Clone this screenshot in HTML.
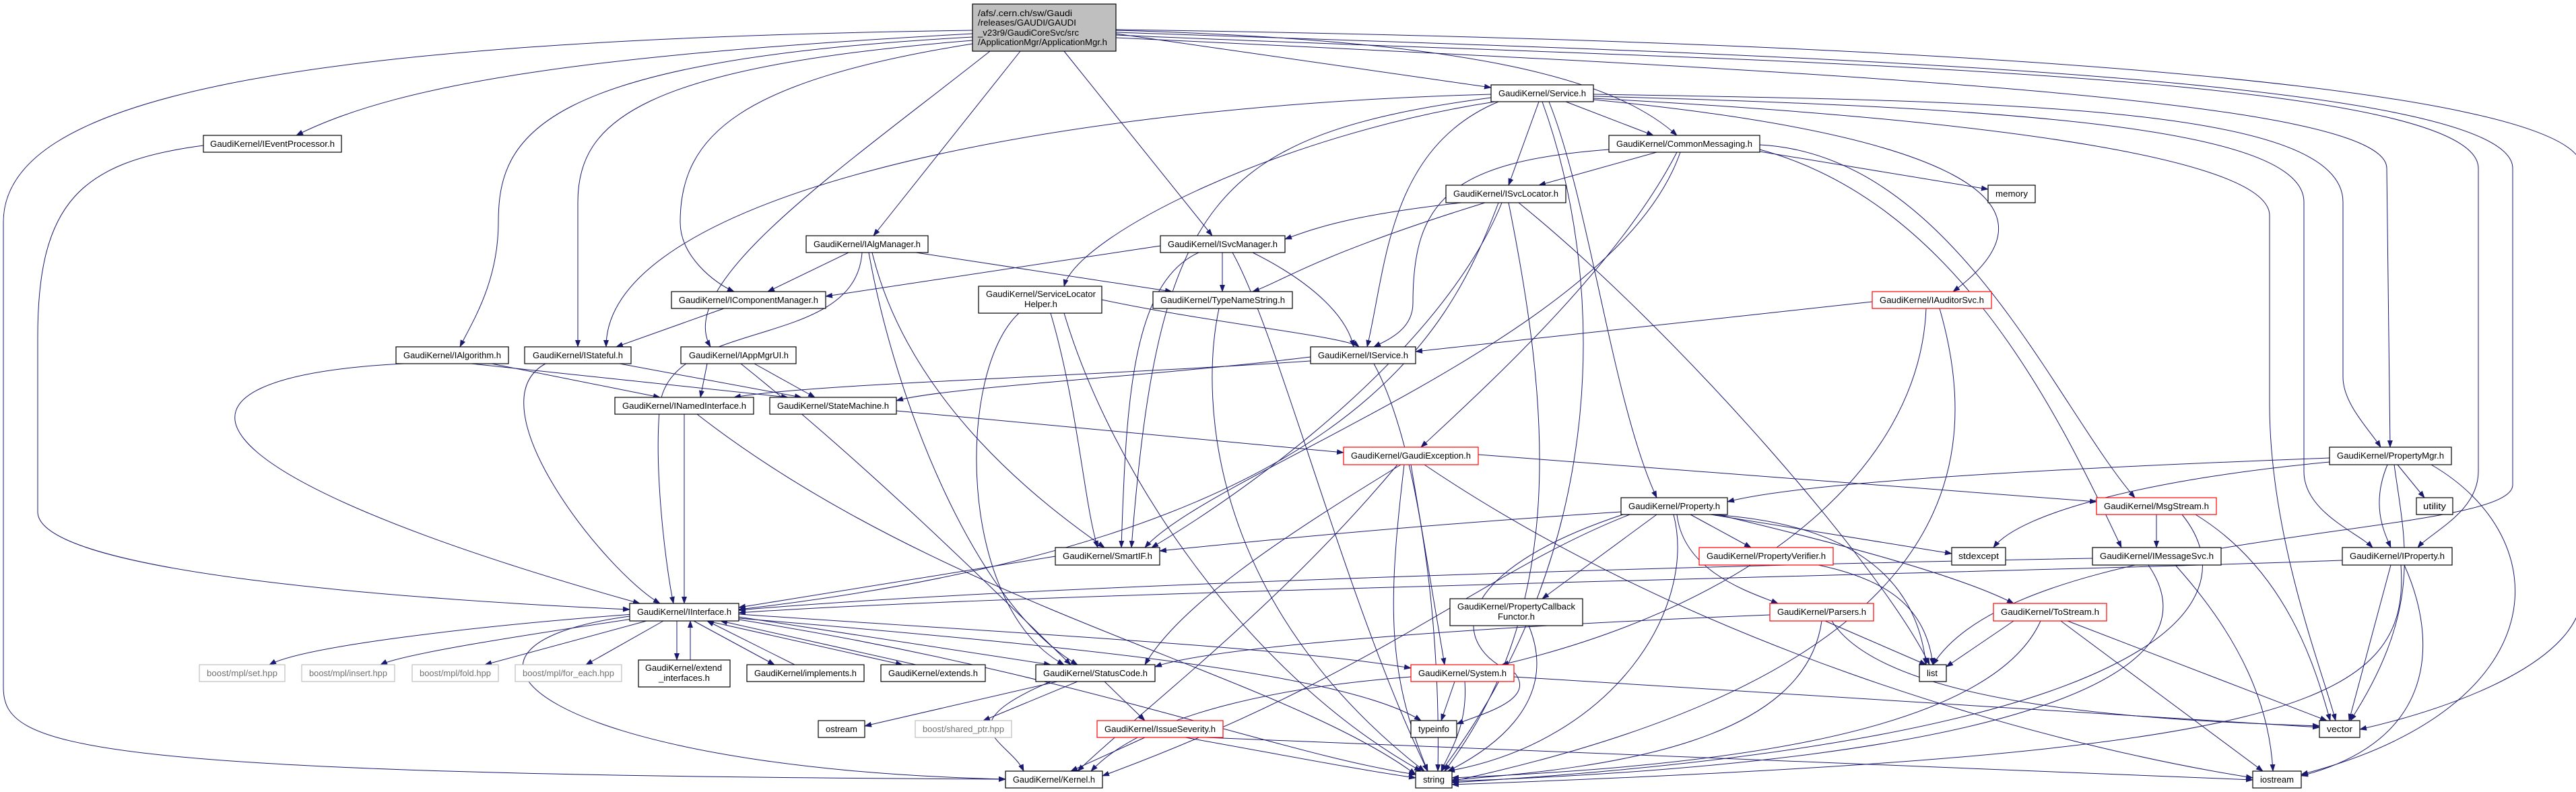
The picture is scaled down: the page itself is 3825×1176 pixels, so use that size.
<!DOCTYPE html>
<html><head><meta charset="utf-8"><style>
html,body{margin:0;padding:0;background:#fff}
svg{display:block}
text{font-family:"Liberation Sans",sans-serif;font-size:13px;fill:#000}
.n{fill:#fff;stroke:#000;stroke-width:1.2}
.r{fill:#fff;stroke:#ff0000;stroke-width:1.2}
.g{fill:#fff;stroke:#bfbfbf;stroke-width:1.2}
.gt{fill:#707070}
path{fill:none;stroke:#191970;stroke-width:1}
</style></head><body>
<svg width="3825" height="1176" viewBox="0 0 3825 1176" xmlns="http://www.w3.org/2000/svg">
<defs><marker id="a" markerWidth="11" markerHeight="8" refX="10" refY="4" orient="auto" markerUnits="userSpaceOnUse"><polygon points="0,0 11,4 0,8" fill="#191970"/></marker></defs>
<g marker-end="url(#a)">
<path d="M1444,50 C900,80 600,120 440,201"/>
<path d="M1444,55 C800,90 740,200 740,330 C740,420 700,480 683,515"/>
<path d="M1444,60 C950,100 858,180 858,300 L858,515"/>
<path d="M1444,65 C1100,120 1010,200 1010,330 C1010,380 1060,420 1090,433"/>
<path d="M1470,76 C1250,250 1000,420 1055,515"/>
<path d="M1515,76 L1297,350"/>
<path d="M1580,76 L1800,350"/>
<path d="M1657,50 L2214,130"/>
<path d="M1657,45 C2200,60 2400,120 2490,201"/>
<path d="M1657,44 C2800,60 3834,120 3834,250 L3834,880 C3834,980 3650,1050 3504,1083"/>
<path d="M1657,48 C2600,80 3731,110 3731,250 L3731,720 C3731,800 3000,780 2870,987"/>
<path d="M1657,52 C2500,90 3680,100 3680,250 L3680,700 C3680,760 3610,790 3590,813"/>
<path d="M1657,56 C2800,110 3544,150 3544,250 L3549,664"/>
<path d="M2366,140 C3000,150 3479,160 3479,300 L3479,560 C3479,600 3520,640 3535,664"/>
<path d="M2366,143 C3000,160 3421,190 3421,300 L3421,700 C3421,760 3500,790 3523,813"/>
<path d="M2366,146 C3000,180 3370,240 3370,320 L3370,600 C3370,800 3450,1000 3468,1070"/>
<path d="M1444,45 C400,60 5,150 5,330 L5,1020 C5,1110 100,1150 1493,1157"/>
<path d="M302,216 C120,240 56,300 56,500 L56,760 C56,850 600,890 935,905"/>
<path d="M2285,151 L2240,275"/>
<path d="M2325,151 L2455,201"/>
<path d="M2225,151 C2060,220 2058,400 2030,515"/>
<path d="M2300,151 C2360,300 2395,600 2460,739"/>
<path d="M2366,148 C2900,200 3080,300 2900,433"/>
<path d="M2220,151 C1900,200 1600,350 1580,425"/>
<path d="M2214,140 C1500,160 900,300 900,515"/>
<path d="M2214,145 C1800,200 1720,300 1680,813"/>
<path d="M2290,151 C2380,400 2400,800 2140,1145"/>
<path d="M2460,226 L2285,275"/>
<path d="M2389,222 C2150,240 2098,300 2098,450 C2098,490 2060,505 2040,515"/>
<path d="M2613,225 L2952,281"/>
<path d="M2613,215 C2900,230 3050,600 3170,739"/>
<path d="M2613,222 C2900,300 3050,600 3150,813"/>
<path d="M2490,226 C2400,400 2200,580 2110,664"/>
<path d="M2495,226 C2400,500 1800,700 1700,813"/>
<path d="M2170,301 C2000,320 1950,340 1908,355"/>
<path d="M2205,301 C1950,380 1900,420 1860,433"/>
<path d="M2225,301 C2150,500 2000,800 1097,905"/>
<path d="M2230,301 C2150,500 1900,700 1710,813"/>
<path d="M2255,301 C2500,500 2800,850 2865,987"/>
<path d="M2240,301 C2300,600 2330,900 2145,1145"/>
<path d="M1723,365 C1500,400 1300,430 1226,440"/>
<path d="M1815,375 L1815,433"/>
<path d="M1860,375 C1950,420 2000,470 2010,515"/>
<path d="M1780,375 C1680,420 1672,600 1665,813"/>
<path d="M1830,375 C1900,500 2000,900 2120,1145"/>
<path d="M1260,375 L1140,433"/>
<path d="M1360,375 L1740,433"/>
<path d="M1295,375 C1350,600 1550,750 1640,813"/>
<path d="M1280,375 C1270,520 1000,470 980,600 C970,700 990,850 1000,896"/>
<path d="M1290,375 C1330,600 1450,900 1600,987"/>
<path d="M1075,458 L915,515"/>
<path d="M1636,445 C1800,480 2000,500 2018,515"/>
<path d="M1513,465 C1420,550 1420,900 1580,987"/>
<path d="M1560,465 C1600,600 1610,750 1630,813"/>
<path d="M1580,465 C1650,700 1850,1000 2110,1145"/>
<path d="M1810,458 C1780,600 1800,900 2115,1145"/>
<path d="M920,540 L1190,590"/>
<path d="M810,540 C700,600 900,850 980,896"/>
<path d="M730,540 L980,590"/>
<path d="M700,540 L1170,590"/>
<path d="M600,540 C200,560 250,700 950,896"/>
<path d="M1120,540 L1210,590"/>
<path d="M1050,540 L1040,590"/>
<path d="M1100,540 C1300,700 1500,900 1590,987"/>
<path d="M1960,535 C1600,560 1200,570 1090,590"/>
<path d="M1946,530 C1700,560 1400,575 1331,595"/>
<path d="M2040,540 C2100,650 2140,900 2135,1145"/>
<path d="M1016,615 L1016,896"/>
<path d="M1035,615 C1400,900 1900,1000 2102,1150"/>
<path d="M1331,610 L1995,672"/>
<path d="M2780,448 L2102,522"/>
<path d="M2860,458 C2850,700 2600,900 2230,987"/>
<path d="M2880,458 C2950,700 2900,1000 2156,1160"/>
<path d="M2195,675 L3113,745"/>
<path d="M2080,690 C1900,800 1750,900 1700,987"/>
<path d="M2095,690 L2145,987"/>
<path d="M2085,690 C2060,900 2060,1000 2120,1145"/>
<path d="M2075,690 C1900,900 1700,1050 1600,1145"/>
<path d="M2115,690 C2500,950 3000,1100 3345,1155"/>
<path d="M3459,680 C3200,690 2700,710 2565,745"/>
<path d="M3545,690 C3520,750 3540,790 3550,813"/>
<path d="M3560,690 L3600,739"/>
<path d="M3555,690 C3570,800 3600,900 3490,1070"/>
<path d="M3459,686 C3200,710 3000,760 2960,813"/>
<path d="M3610,690 C3800,800 3800,1050 3417,1150"/>
<path d="M2407,760 C2100,780 1900,800 1722,818"/>
<path d="M2540,764 L2898,822"/>
<path d="M2510,764 L2600,813"/>
<path d="M2460,764 L2290,889"/>
<path d="M2490,764 C2500,850 2600,880 2640,896"/>
<path d="M2550,764 C2700,800 2900,850 2990,896"/>
<path d="M2540,764 C2800,780 2850,900 2860,987"/>
<path d="M2485,764 C2520,900 2400,1100 2150,1145"/>
<path d="M2420,764 C2200,850 2050,1000 1637,1152"/>
<path d="M2410,764 C2150,850 2150,960 2250,1000 C2280,1040 2200,1060 2163,1075"/>
<path d="M1567,826 L1097,902"/>
<path d="M3107,829 C2500,840 1500,870 1097,906"/>
<path d="M3190,839 C3300,1000 3000,1130 2156,1160"/>
<path d="M3230,839 C3330,950 3370,1050 3375,1145"/>
<path d="M3202,764 L3202,813"/>
<path d="M3240,764 C3350,900 3200,1100 2156,1162"/>
<path d="M3260,764 C3400,850 3440,1000 3460,1070"/>
<path d="M3478,832 C3000,850 1500,880 1097,910"/>
<path d="M3550,839 L3488,1070"/>
<path d="M3565,839 C3580,1050 3400,1120 2156,1165"/>
<path d="M3570,839 C3620,950 3620,1100 3417,1152"/>
<path d="M940,912 C700,930 450,960 400,987"/>
<path d="M945,918 C800,940 600,970 565,987"/>
<path d="M960,922 L720,987"/>
<path d="M985,922 L870,987"/>
<path d="M1005,922 L1005,980"/>
<path d="M1025,980 L1025,922"/>
<path d="M1030,922 L1150,987"/>
<path d="M1180,987 L1050,922"/>
<path d="M1050,922 L1340,987"/>
<path d="M1360,987 L1070,922"/>
<path d="M1097,916 L1560,987"/>
<path d="M1097,912 C1500,940 1900,960 2095,992"/>
<path d="M935,915 C600,960 800,1140 1493,1157"/>
<path d="M1097,918 C1600,960 2000,1000 2110,1070"/>
<path d="M1097,920 C1600,1000 1900,1120 2102,1150"/>
<path d="M1570,1012 L1284,1078"/>
<path d="M1600,1012 L1460,1070"/>
<path d="M1640,1012 L1700,1070"/>
<path d="M1560,1012 C1400,1080 1500,1100 1520,1145"/>
<path d="M1700,1095 L1590,1145"/>
<path d="M1760,1095 C1900,1120 2000,1140 2102,1155"/>
<path d="M1790,1095 C2500,1120 3000,1140 3345,1158"/>
<path d="M2160,1012 L2140,1070"/>
<path d="M2175,1012 C2180,1080 2150,1120 2140,1145"/>
<path d="M2248,1005 L3444,1080"/>
<path d="M2095,1005 C1900,1020 1700,1060 1620,1145"/>
<path d="M2990,922 L2890,990"/>
<path d="M3070,922 L3455,1070"/>
<path d="M3060,922 L3360,1145"/>
<path d="M3030,922 C2950,1100 2500,1140 2156,1155"/>
<path d="M2628,913 C2200,930 1800,960 1715,990"/>
<path d="M2710,922 L2860,987"/>
<path d="M2720,922 C2800,1050 3200,1070 3444,1078"/>
<path d="M2705,922 C2680,1100 2400,1140 2156,1158"/>
<path d="M2270,929 C2320,1050 2200,1120 2150,1145"/>
<path d="M2700,839 C2800,860 2860,900 2870,987"/>
</g>
<rect x="1444" y="6" width="213" height="70" fill="#bfbfbf" stroke="#000" stroke-width="1.2"/>
<text x="1452" y="24" textLength="140" lengthAdjust="spacingAndGlyphs">/afs/.cern.ch/sw/Gaudi</text>
<text x="1452" y="38" textLength="146" lengthAdjust="spacingAndGlyphs">/releases/GAUDI/GAUDI</text>
<text x="1452" y="53" textLength="150" lengthAdjust="spacingAndGlyphs">_v23r9/GaudiCoreSvc/src</text>
<text x="1452" y="67" textLength="192" lengthAdjust="spacingAndGlyphs">/ApplicationMgr/ApplicationMgr.h</text>
<g>
<rect class="n" x="302" y="201" width="205" height="25"/><text x="312" y="218" textLength="185" lengthAdjust="spacingAndGlyphs">GaudiKernel/IEventProcessor.h</text>
<rect class="n" x="588" y="515" width="167" height="25"/><text x="599" y="532" textLength="145" lengthAdjust="spacingAndGlyphs">GaudiKernel/IAlgorithm.h</text>
<rect class="n" x="779" y="515" width="158" height="25"/><text x="791" y="532" textLength="134" lengthAdjust="spacingAndGlyphs">GaudiKernel/IStateful.h</text>
<rect class="n" x="1197" y="350" width="181" height="25"/><text x="1208" y="367" textLength="159" lengthAdjust="spacingAndGlyphs">GaudiKernel/IAlgManager.h</text>
<rect class="n" x="1723" y="350" width="185" height="25"/><text x="1734" y="367" textLength="163" lengthAdjust="spacingAndGlyphs">GaudiKernel/ISvcManager.h</text>
<rect class="n" x="997" y="433" width="229" height="25"/><text x="1008" y="450" textLength="207" lengthAdjust="spacingAndGlyphs">GaudiKernel/IComponentManager.h</text>
<rect class="n" x="1453" y="425" width="183" height="40"/><text x="1464" y="441" textLength="163" lengthAdjust="spacingAndGlyphs">GaudiKernel/ServiceLocator</text><text x="1521" y="456" textLength="49" lengthAdjust="spacingAndGlyphs">Helper.h</text>
<rect class="n" x="1712" y="433" width="207" height="25"/><text x="1723" y="450" textLength="185" lengthAdjust="spacingAndGlyphs">GaudiKernel/TypeNameString.h</text>
<rect class="n" x="1011" y="515" width="171" height="25"/><text x="1023" y="532" textLength="148" lengthAdjust="spacingAndGlyphs">GaudiKernel/IAppMgrUI.h</text>
<rect class="n" x="2214" y="126" width="152" height="25"/><text x="2225" y="143" textLength="130" lengthAdjust="spacingAndGlyphs">GaudiKernel/Service.h</text>
<rect class="n" x="2389" y="201" width="224" height="25"/><text x="2400" y="218" textLength="202" lengthAdjust="spacingAndGlyphs">GaudiKernel/CommonMessaging.h</text>
<rect class="n" x="2147" y="275" width="178" height="26"/><text x="2158" y="292" textLength="156" lengthAdjust="spacingAndGlyphs">GaudiKernel/ISvcLocator.h</text>
<rect class="n" x="1946" y="515" width="156" height="25"/><text x="1957" y="532" textLength="134" lengthAdjust="spacingAndGlyphs">GaudiKernel/IService.h</text>
<rect class="r" x="2780" y="433" width="177" height="25"/><text x="2791" y="450" textLength="155" lengthAdjust="spacingAndGlyphs">GaudiKernel/IAuditorSvc.h</text>
<rect class="n" x="2952" y="275" width="70" height="26"/><text x="2963" y="292" textLength="48" lengthAdjust="spacingAndGlyphs">memory</text>
<rect class="n" x="913" y="590" width="206" height="25"/><text x="924" y="607" textLength="184" lengthAdjust="spacingAndGlyphs">GaudiKernel/INamedInterface.h</text>
<rect class="n" x="1143" y="590" width="188" height="25"/><text x="1154" y="607" textLength="166" lengthAdjust="spacingAndGlyphs">GaudiKernel/StateMachine.h</text>
<rect class="r" x="1995" y="664" width="200" height="26"/><text x="2006" y="681" textLength="178" lengthAdjust="spacingAndGlyphs">GaudiKernel/GaudiException.h</text>
<rect class="n" x="3459" y="664" width="181" height="26"/><text x="3470" y="681" textLength="159" lengthAdjust="spacingAndGlyphs">GaudiKernel/PropertyMgr.h</text>
<rect class="n" x="2407" y="739" width="158" height="25"/><text x="2418" y="756" textLength="136" lengthAdjust="spacingAndGlyphs">GaudiKernel/Property.h</text>
<rect class="r" x="3113" y="739" width="178" height="25"/><text x="3124" y="756" textLength="156" lengthAdjust="spacingAndGlyphs">GaudiKernel/MsgStream.h</text>
<rect class="n" x="3588" y="739" width="54" height="25"/><text x="3598" y="756" textLength="34" lengthAdjust="spacingAndGlyphs">utility</text>
<rect class="n" x="1567" y="813" width="155" height="26"/><text x="1578" y="830" textLength="133" lengthAdjust="spacingAndGlyphs">GaudiKernel/SmartIF.h</text>
<rect class="r" x="2523" y="813" width="199" height="26"/><text x="2534" y="830" textLength="177" lengthAdjust="spacingAndGlyphs">GaudiKernel/PropertyVerifier.h</text>
<rect class="n" x="2898" y="813" width="80" height="26"/><text x="2908" y="830" textLength="60" lengthAdjust="spacingAndGlyphs">stdexcept</text>
<rect class="n" x="3107" y="813" width="191" height="26"/><text x="3118" y="830" textLength="169" lengthAdjust="spacingAndGlyphs">GaudiKernel/IMessageSvc.h</text>
<rect class="n" x="3478" y="813" width="163" height="26"/><text x="3489" y="830" textLength="141" lengthAdjust="spacingAndGlyphs">GaudiKernel/IProperty.h</text>
<rect class="n" x="2153" y="889" width="197" height="40"/><text x="2164" y="905" textLength="175" lengthAdjust="spacingAndGlyphs">GaudiKernel/PropertyCallback</text><text x="2224" y="920" textLength="55" lengthAdjust="spacingAndGlyphs">Functor.h</text>
<rect class="n" x="935" y="896" width="162" height="26"/><text x="946" y="913" textLength="140" lengthAdjust="spacingAndGlyphs">GaudiKernel/IInterface.h</text>
<rect class="r" x="2628" y="896" width="154" height="26"/><text x="2639" y="913" textLength="132" lengthAdjust="spacingAndGlyphs">GaudiKernel/Parsers.h</text>
<rect class="r" x="2960" y="896" width="168" height="26"/><text x="2971" y="913" textLength="146" lengthAdjust="spacingAndGlyphs">GaudiKernel/ToStream.h</text>
<rect class="g" x="296" y="987" width="127" height="25"/><text class="gt" x="307" y="1004" textLength="105" lengthAdjust="spacingAndGlyphs">boost/mpl/set.hpp</text>
<rect class="g" x="448" y="987" width="138" height="25"/><text class="gt" x="459" y="1004" textLength="116" lengthAdjust="spacingAndGlyphs">boost/mpl/insert.hpp</text>
<rect class="g" x="612" y="987" width="128" height="25"/><text class="gt" x="623" y="1004" textLength="106" lengthAdjust="spacingAndGlyphs">boost/mpl/fold.hpp</text>
<rect class="g" x="765" y="987" width="158" height="25"/><text class="gt" x="776" y="1004" textLength="136" lengthAdjust="spacingAndGlyphs">boost/mpl/for_each.hpp</text>
<rect class="n" x="948" y="980" width="136" height="40"/><text x="958" y="996" textLength="114" lengthAdjust="spacingAndGlyphs">GaudiKernel/extend</text><text x="978" y="1011" textLength="76" lengthAdjust="spacingAndGlyphs">_interfaces.h</text>
<rect class="n" x="1109" y="987" width="174" height="25"/><text x="1120" y="1004" textLength="152" lengthAdjust="spacingAndGlyphs">GaudiKernel/implements.h</text>
<rect class="n" x="1308" y="987" width="155" height="25"/><text x="1319" y="1004" textLength="133" lengthAdjust="spacingAndGlyphs">GaudiKernel/extends.h</text>
<rect class="n" x="1538" y="987" width="177" height="25"/><text x="1549" y="1004" textLength="155" lengthAdjust="spacingAndGlyphs">GaudiKernel/StatusCode.h</text>
<rect class="r" x="2095" y="987" width="153" height="25"/><text x="2106" y="1004" textLength="131" lengthAdjust="spacingAndGlyphs">GaudiKernel/System.h</text>
<rect class="n" x="2850" y="987" width="40" height="25"/><text x="2861" y="1004" textLength="16" lengthAdjust="spacingAndGlyphs">list</text>
<rect class="n" x="1215" y="1070" width="69" height="25"/><text x="1226" y="1087" textLength="47" lengthAdjust="spacingAndGlyphs">ostream</text>
<rect class="g" x="1359" y="1070" width="143" height="25"/><text class="gt" x="1370" y="1087" textLength="121" lengthAdjust="spacingAndGlyphs">boost/shared_ptr.hpp</text>
<rect class="r" x="1629" y="1070" width="187" height="25"/><text x="1640" y="1087" textLength="165" lengthAdjust="spacingAndGlyphs">GaudiKernel/IssueSeverity.h</text>
<rect class="n" x="2095" y="1070" width="68" height="25"/><text x="2106" y="1087" textLength="46" lengthAdjust="spacingAndGlyphs">typeinfo</text>
<rect class="n" x="3444" y="1070" width="60" height="25"/><text x="3455" y="1087" textLength="38" lengthAdjust="spacingAndGlyphs">vector</text>
<rect class="n" x="1493" y="1145" width="144" height="25"/><text x="1504" y="1162" textLength="122" lengthAdjust="spacingAndGlyphs">GaudiKernel/Kernel.h</text>
<rect class="n" x="2102" y="1145" width="54" height="25"/><text x="2113" y="1162" textLength="32" lengthAdjust="spacingAndGlyphs">string</text>
<rect class="n" x="3345" y="1145" width="72" height="25"/><text x="3356" y="1162" textLength="50" lengthAdjust="spacingAndGlyphs">iostream</text>
</g>
</svg>
</body></html>
